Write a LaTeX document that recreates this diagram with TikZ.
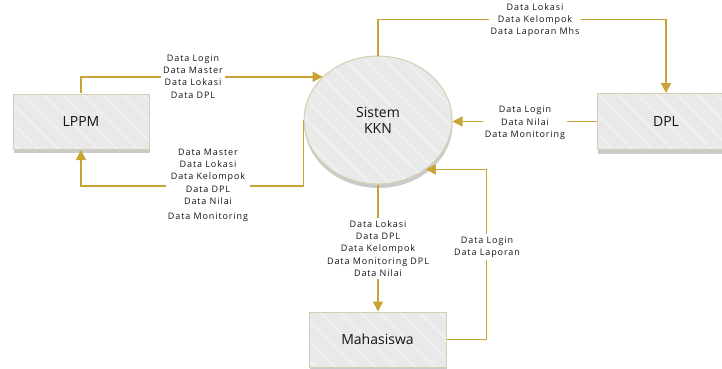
\documentclass[tikz,border=0pt]{standalone}
\usepackage{fontspec}
\setmainfont{Open Sans}
\newfontfamily\lblfont[LetterSpace=10]{Open Sans}
\usetikzlibrary{arrows.meta,shapes.geometric,shadows,patterns.meta,calc}
\definecolor{flow}{RGB}{200,164,52}
\definecolor{edgebeige}{RGB}{214,206,176}
\definecolor{boxfill}{RGB}{233,233,233}
\definecolor{stripe}{RGB}{240,240,240}
\definecolor{shadowgray}{RGB}{202,202,202}
\definecolor{txt}{RGB}{20,20,20}
\begin{document}
\begin{tikzpicture}[x=1pt,y=-1pt,
  shaded/.style={draw=edgebeige, line width=1pt, inner sep=0pt, text=txt,
    font=\fontsize{14}{16}\selectfont, align=center,
    drop shadow={shadow xshift=0.5pt, shadow yshift=-4pt, fill=shadowgray, opacity=1},
    preaction={fill=boxfill},
    pattern={Lines[angle=-45,distance=14pt,line width=2pt]}, pattern color=stripe},
  entity/.style={shaded, rectangle, minimum width=136pt, minimum height=55pt},
  process/.style={shaded, ellipse, minimum width=148pt, minimum height=128pt},
  flowline/.style={draw=flow, line width=1.5pt, -{Triangle[length=10pt,width=10pt]}},
  lbl/.style={fill=white, align=center, inner sep=2pt, text=txt,
    font=\lblfont\fontsize{9}{12.3}\selectfont}
]
\useasboundingbox (0,0) rectangle (722,368);
\clip (0,0) rectangle (722,368);

\node[entity] (lppm) at (81,121.5) {LPPM};
\node[entity, minimum width=138pt, minimum height=56pt] (dpl) at (666,121.5) {DPL};
\node[entity, minimum width=137pt] (mhs) at (377.5,339.5) {Mahasiswa};
\node[process] (sys) at (378,120) {Sistem\\KKN};

\draw[flowline] (lppm.north) |- (sys.142);
\draw[flowline] (sys.west) -- ++(0,66) -| (lppm.south);
\draw[flowline] (sys.north) -- ++(0,-36) -| (dpl.north);
\draw[flowline] (dpl.west) -- (dpl.west -| sys.east);
\draw[flowline] (sys.south) -- (sys.south |- mhs.north);
\draw[flowline] (mhs.east) -- ++(40,0) |- (sys.314);

\node[lbl] (l1) at (193,76.5) {Data Login\\Data Master\\Data Lokasi\\Data DPL};
\node[lbl] (l2) at (208,185.5) {Data Master\\Data Lokasi\\Data Kelompok\\Data DPL\\Data Nilai\\[3pt]Data Monitoring};
\node[lbl] (l3) at (535,20) {Data Lokasi\\Data Kelompok\\Data Laporan Mhs};
\node[lbl] (l4) at (525,123) {Data Login\\Data Nilai\\Data Monitoring};
\node[lbl] (l5) at (378,248.5) {Data Lokasi\\Data DPL\\Data Kelompok\\Data Monitoring DPL\\Data Nilai};
\node[lbl] (l6) at (487,247) {Data Login\\Data Laporan};
\end{tikzpicture}
\end{document}
